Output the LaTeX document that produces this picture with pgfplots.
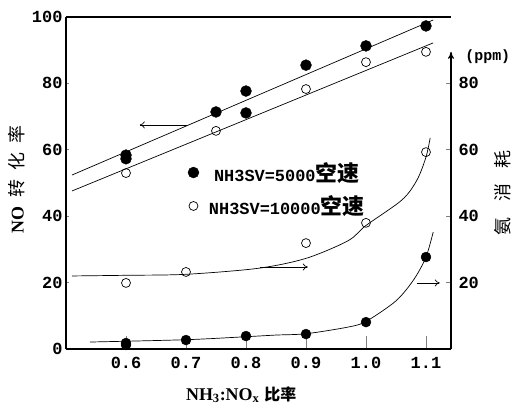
\documentclass[border=0pt]{standalone}
\usepackage{fontspec}
\usepackage{pgfplots}
\pgfplotsset{compat=1.18}
\usetikzlibrary{arrows.meta}
\setmainfont{Liberation Serif}
\newfontfamily\mono{Liberation Mono}
\newfontfamily\cjk{Noto Sans CJK SC}
\newcommand{\tfont}{\mono\bfseries\fontsize{17}{20}\selectfont}
\newcommand{\lfont}{\mono\bfseries\fontsize{17}{20}\selectfont}
\newcommand{\cfont}{\cjk\fontsize{18}{20}\selectfont}
\newcommand{\cfontL}{\cjk\fontsize{22}{24}\selectfont}
\newcommand{\cfontX}{\cjk\fontsize{16}{18}\selectfont}

% NO conversion, SV=5000 (filled)
\pgfplotstableread{
x y
0.6 58.4
0.6 57.3
0.75 71.4
0.8 77.7
0.8 71.1
0.9 85.5
1.0 91.3
1.1 97.3
}\convA
% NO conversion, SV=10000 (open)
\pgfplotstableread{
x y
0.6 53.0
0.75 65.7
0.9 78.3
1.0 86.4
1.1 89.5
}\convB
% NH3 consumption, SV=5000 (filled)
\pgfplotstableread{
x y
0.6 1.8
0.6 1.2
0.7 2.7
0.8 3.9
0.9 4.5
1.0 8.1
1.1 27.7
}\nhA
% NH3 consumption, SV=10000 (open)
\pgfplotstableread{
x y
0.6 19.9
0.7 23.2
0.9 31.9
1.0 38.0
1.1 59.3
}\nhB
% fitted curves
\pgfplotstableread{
x y
0.51 22.0
0.60 22.2
0.70 22.5
0.82 24.3
0.90 27.3
0.97 32.6
1.00 37.2
1.06 44.9
1.085 50.9
1.10 57.8
1.107 63.6
}\curveB
\pgfplotstableread{
x y
0.54 2.1
0.70 2.8
0.80 3.7
0.85 4.2
0.90 4.6
0.97 6.6
1.00 8.3
1.05 14.5
1.08 21.0
1.10 27.7
1.112 35.2
}\curveA

\begin{document}
\begin{tikzpicture}
\begin{axis}[name=ax,
  scale only axis, width=385bp, height=332bp,
  xmin=0.5, xmax=1.1417, ymin=0, ymax=100,
  axis x line=box, axis y line*=left,
  axis line style={line width=1.3bp},
  xtick pos=left, ytick pos=left,
  tick align=inside,
  xtick={0.6,0.7,0.8,0.9,1.0,1.1},
  xticklabels={0.6,0.7,0.8,0.9,1.0,1.1},
  ytick={0,20,40,60,80,100},
  yticklabels={0,20,40,60,80,100},
  xtick style={/pgfplots/major tick length=13bp, line width=0.6bp},
  ytick style={/pgfplots/major tick length=3bp, line width=0.6bp},
  xticklabel style={font=\tfont, yshift=-5bp},
  yticklabel style={font=\tfont},
  clip=false,
  legend style={draw=none, fill=none, at={(axis cs:0.703,56.9)}, anchor=north west,
    font=\lfont, row sep=9bp, inner sep=0pt},
]
\addplot[only marks, mark=*, mark size=5.5pt, black] table {\convA};
\addlegendentry{\hspace*{8bp}NH3SV=5000{\cfontL 空速}}
\addplot[only marks, mark=o, mark size=4.5pt, black, mark options={line width=0.7bp}] table {\convB};
\addlegendentry{\hspace*{8bp}NH3SV=10000{\cfontL 空速}}
\addplot[black, line width=0.7bp, forget plot] coordinates {(0.51,52.4) (1.112,99.1)};
\addplot[black, line width=0.7bp, forget plot] coordinates {(0.51,47.6) (1.112,92.2)};
\addplot[only marks, mark=*, mark size=5pt, black, forget plot] table {\nhA};
\addplot[only marks, mark=o, mark size=4.5pt, black, mark options={line width=0.7bp}, forget plot] table {\nhB};
\addplot[black, line width=0.7bp, smooth, forget plot] table {\curveB};
\addplot[black, line width=0.7bp, smooth, forget plot] table {\curveA};
\draw[line width=0.7bp, -{To[length=5bp,width=7bp]}] (axis cs:0.702,67.5) -- (axis cs:0.623,67.5);
\draw[line width=0.7bp, -{To[length=5bp,width=7bp]}] (axis cs:0.823,24.7) -- (axis cs:0.903,24.7);
\draw[line width=0.7bp, -{To[length=5bp,width=7bp]}] (axis cs:1.085,19.9) -- (axis cs:1.123,19.9);
\node[rotate=90, font=\cfont] at (axis cs:0.418,51) {{\fontspec{Liberation Serif}\bfseries NO}\hspace{9bp}转\hspace{9bp}化\hspace{9bp}率};
\node[font=\fontsize{18}{20}\selectfont\bfseries] at (axis cs:0.792,-13.8)
  {NH\textsubscript{3}:NO\textsubscript{x}\hspace{5bp}{\cfontX 比率}};
\end{axis}
\begin{axis}[at={(ax.south west)}, anchor=south west,
  scale only axis, width=385bp, height=332bp,
  xmin=0.5, xmax=1.1417, ymin=0, ymax=100,
  axis x line=none, axis y line*=right,
  axis line style={draw=none},
  tick align=inside,
  ytick={20,40,60,80}, yticklabels={20,40,60,80},
  ytick style={/pgfplots/major tick length=5bp, line width=0.6bp},
  yticklabel style={font=\tfont, xshift=4bp},
  clip=false,
]
\addplot[draw=none, forget plot] coordinates {(0.6,0) (1.1,0)};
\draw[line width=1.3bp, -{To[length=7bp,width=6bp]}] (axis cs:1.1417,0) -- (axis cs:1.1417,89.5);
\node[font=\fontsize{15}{18}\selectfont\mono\bfseries] at (axis cs:1.203,88) {(ppm)};
\node[rotate=90, font=\cfont] at (axis cs:1.227,47) {氨\hspace{16bp}消\hspace{16bp}耗};
\end{axis}
\pgfresetboundingbox
\path (ax.south west) ++(-66bp,-58bp) rectangle ++(518bp,407bp);
\end{tikzpicture}
\end{document}
